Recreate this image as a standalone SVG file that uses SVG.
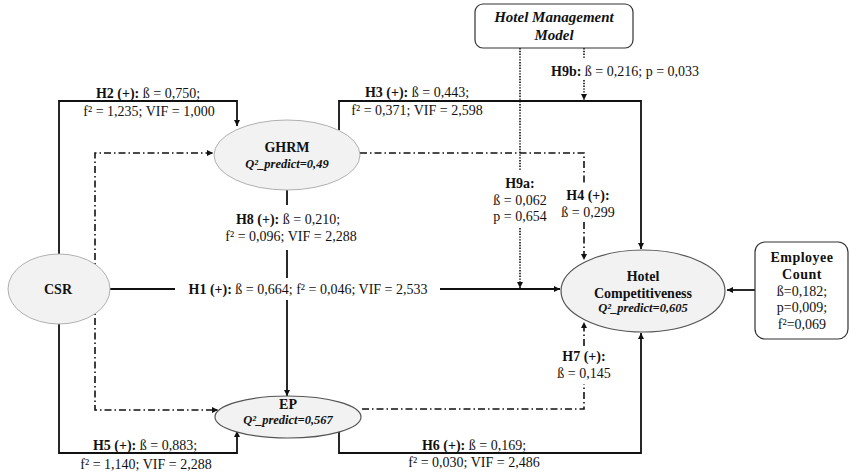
<svg xmlns="http://www.w3.org/2000/svg" width="850" height="474" viewBox="0 0 850 474">
<style>
text{font-family:"Liberation Serif","Times New Roman",serif;fill:#111;}
.lb{font-size:14px;text-anchor:middle;}
.ls{font-size:14px;text-anchor:start;}
.b{font-weight:bold;}
.t{font-size:14px;font-weight:bold;text-anchor:middle;}
.q{font-size:12.5px;font-weight:bold;font-style:italic;text-anchor:middle;}
.solid{fill:none;stroke:#111;stroke-width:1.8;}
.dd{fill:none;stroke:#111;stroke-width:1.6;stroke-dasharray:7 3 1.5 3;}
.dot{fill:none;stroke:#111;stroke-width:1.6;stroke-dasharray:1.4 1.4;}
.el{fill:#f2f2f2;stroke:#b0b0b0;stroke-width:1;}
.eld{fill:#f2f2f2;stroke:#555;stroke-width:1.2;}
.box{fill:#fff;stroke:#333;stroke-width:1.2;}
</style>
<defs>
<marker id="a" viewBox="0 0 8 8" refX="8" refY="4" markerWidth="6" markerHeight="6" markerUnits="userSpaceOnUse" orient="auto">
<path d="M0,0 L8,4 L0,8 z" fill="#111"/>
</marker>
</defs>
<g id="connectors">
<!-- H2 -->
<path class="solid" d="M59 256 V101 H237 V126" marker-end="url(#a)"/>
<!-- H3 -->
<path class="solid" d="M339 130 V101 H641 V249" marker-end="url(#a)"/>
<!-- H1 -->
<path class="solid" d="M110 289 H175"/>
<path class="solid" d="M440 289 H560" marker-end="url(#a)"/>
<!-- H8 -->
<path class="solid" d="M287 190 V205"/>
<path class="solid" d="M287 250 V278"/>
<path class="solid" d="M287 300 V396" marker-end="url(#a)"/>
<!-- H5 -->
<path class="solid" d="M59 322 V453 H237 V431" marker-end="url(#a)"/>
<!-- H6 -->
<path class="solid" d="M339 430 V453 H641 V333" marker-end="url(#a)"/>
<!-- CSR dash-dot to GHRM and EP -->
<path class="dd" d="M95 289 V153 H213" marker-end="url(#a)"/>
<path class="dd" d="M95 289 V410 H218" marker-end="url(#a)"/>
<!-- H4 -->
<path class="dd" d="M360 153 H584 V183"/>
<path class="dd" d="M584 222 V260" marker-end="url(#a)"/>
<!-- H7 -->
<path class="dd" d="M362 409 H584 V384"/>
<path class="dd" d="M584 346 V322" marker-end="url(#a)"/>
<!-- H9a -->
<path class="dot" d="M520 48 V171"/>
<path class="dot" d="M520 228 V288" marker-end="url(#a)"/>
<!-- H9b -->
<path class="dot" d="M584 48 V59"/>
<path class="dot" d="M584 80 V100" marker-end="url(#a)"/>
<!-- Employee count -->
<path class="solid" d="M755 290 H727" marker-end="url(#a)"/>
</g>
<g id="labels">
<text class="lb" x="148" y="98"><tspan class="b">H2 (+):</tspan> ß = 0,750;</text>
<text class="lb" x="149" y="116">f² = 1,235; VIF = 1,000</text>
<text class="lb" x="417" y="97"><tspan class="b">H3 (+):</tspan> ß = 0,443;</text>
<text class="lb" x="417" y="115">f² = 0,371; VIF = 2,598</text>
<text class="ls" x="551" y="76"><tspan class="b">H9b:</tspan> ß = 0,216; p = 0,033</text>
<text class="lb" x="288" y="224"><tspan class="b">H8 (+):</tspan> ß = 0,210;</text>
<text class="lb" x="291" y="241">f² = 0,096; VIF = 2,288</text>
<text class="lb" x="308" y="294"><tspan class="b">H1 (+):</tspan> ß = 0,664; f² = 0,046; VIF = 2,533</text>
<text class="lb b" x="520" y="188">H9a:</text>
<text class="lb" x="520" y="205">ß = 0,062</text>
<text class="lb" x="520" y="221">p = 0,654</text>
<text class="lb b" x="588" y="200">H4 (+):</text>
<text class="lb" x="588" y="217">ß = 0,299</text>
<text class="lb b" x="584" y="361">H7 (+):</text>
<text class="lb" x="584" y="378">ß = 0,145</text>
<text class="lb" x="145" y="450"><tspan class="b">H5 (+):</tspan> ß = 0,883;</text>
<text class="lb" x="146" y="469">f² = 1,140; VIF = 2,288</text>
<text class="lb" x="474" y="450"><tspan class="b">H6 (+):</tspan> ß = 0,169;</text>
<text class="lb" x="474" y="467">f² = 0,030; VIF = 2,486</text>
</g>
<g id="csr">
<ellipse class="el" cx="59" cy="289" rx="51" ry="35"/>
<text class="t" x="58" y="294">CSR</text>
</g>
<g id="ghrm">
<ellipse class="el" cx="287" cy="155" rx="73" ry="35"/>
<text class="t" x="287" y="152">GHRM</text>
<text class="q" x="287" y="168">Q²_predict=0,49</text>
</g>
<g id="ep">
<ellipse class="eld" cx="288" cy="417" rx="73" ry="21"/>
<text class="t" x="288" y="409">EP</text>
<text class="q" x="288" y="424">Q²_predict=0,567</text>
</g>
<g id="hc">
<ellipse class="eld" cx="643" cy="291" rx="82" ry="41"/>
<text class="t" x="643" y="281">Hotel</text>
<text class="t" x="643" y="298">Competitiveness</text>
<text class="q" x="643" y="312">Q²_predict=0,605</text>
</g>
<g id="hmm">
<rect class="box" x="475" y="4" width="158" height="44" rx="8"/>
<text x="554" y="22" style="font-size:15px;font-weight:bold;font-style:italic;text-anchor:middle">Hotel Management</text>
<text x="554" y="40" style="font-size:15px;font-weight:bold;font-style:italic;text-anchor:middle">Model</text>
</g>
<g id="emp">
<rect class="box" x="755" y="242" width="93" height="97" rx="10"/>
<text class="t" x="802" y="262" style="letter-spacing:0.5px">Employee</text>
<text class="t" x="802" y="279" style="letter-spacing:0.5px">Count</text>
<text class="lb" x="802" y="296">ß=0,182;</text>
<text class="lb" x="802" y="312">p=0,009;</text>
<text class="lb" x="802" y="329">f²=0,069</text>
</g>
</svg>
